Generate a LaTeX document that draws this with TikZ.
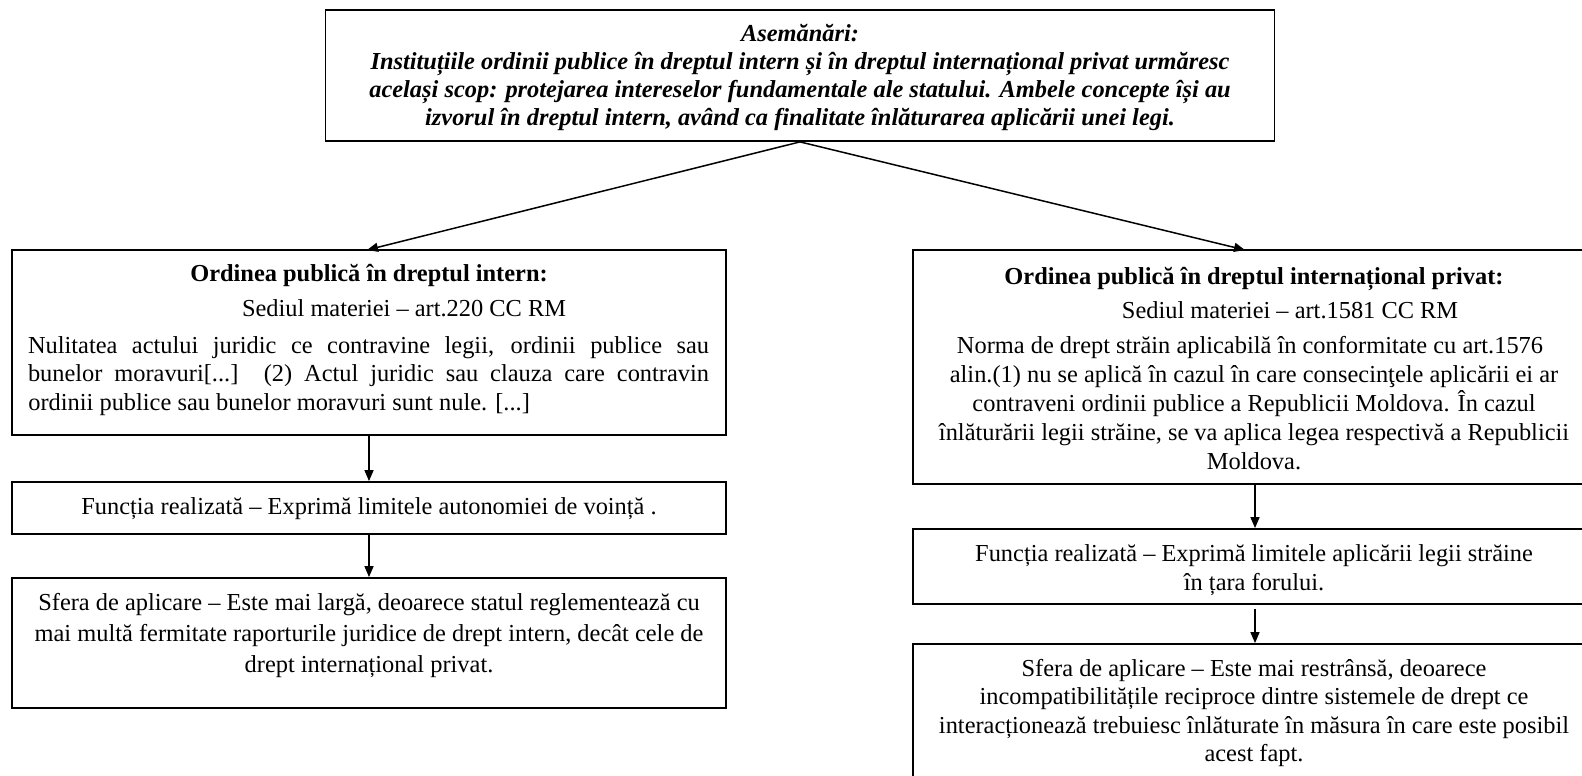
\documentclass[tikz,border=0pt]{standalone}
\usepackage{fontspec}
\setmainfont{Liberation Serif}
\usetikzlibrary{arrows.meta}
\tikzset{
  box/.style={draw=black, line width=0.9pt, rectangle, inner sep=0pt},
  txt/.style={inner sep=0pt, anchor=base, font=\fontsize{12.2pt}{14pt}\selectfont},
  btxt/.style={txt, font=\fontsize{12.2pt}{14pt}\selectfont\bfseries},
  bitxt/.style={txt, font=\fontsize{12.2pt}{14pt}\selectfont\bfseries\itshape},
  arr/.style={-{Triangle[length=5.5pt,width=4.5pt]}, line width=0.75pt},
}
\begin{document}
\begin{tikzpicture}[x=0.5pt,y=-0.5pt]
\useasboundingbox (0,0) rectangle (1582,775);
\clip (0,0) rectangle (1582,775);
% boxes
\node[box, minimum width=474.5pt, minimum height=65.5pt] (top) at (800,75.5) {};
\node[box, minimum width=357pt, minimum height=92.5pt] (lbox1) at (369,342.5) {};
\node[box, minimum width=357pt, minimum height=26pt] (lbox2) at (369,508) {};
\node[box, minimum width=357pt, minimum height=65pt] (lbox3) at (369,643) {};
\node[box, minimum width=342pt, minimum height=117pt] (rbox1) at (1255,367) {};
\node[box, minimum width=342pt, minimum height=37.5pt] (rbox2) at (1255,566.5) {};
\node[box, minimum width=342pt, minimum height=78pt] (rbox3) at (1255,722) {};
% top text
\node[bitxt] (t1) at (800,42) {Asemănări:};
\node[bitxt] (t2) at (800,70) {Instituțiile ordinii publice în dreptul intern și în dreptul internațional privat urmăresc};
\node[bitxt] (t3) at (800,98) {același scop: protejarea intereselor fundamentale ale statului. Ambele concepte își au};
\node[bitxt] (t4) at (800,126) {izvorul în dreptul intern, având ca finalitate înlăturarea aplicării unei legi.};
% left box 1
\node[btxt] (l1) at (369,281) {Ordinea publică în dreptul intern:};
\node[txt] (l2) at (404,316) {Sediul materiei – art.220 CC RM};
\node[txt] (l3) at (368.5,353) {\makebox[340.5pt][s]{Nulitatea actului juridic ce contravine legii, ordinii publice sau}};
\node[txt] (l4) at (368.5,381) {\makebox[340.5pt][s]{bunelor moravuri[...] (2) Actul juridic sau clauza care contravin}};
\node[txt, anchor=base west] (l5) at (28,410) {ordinii publice sau bunelor moravuri sunt nule. [...]};
% left box 2
\node[txt] (l6) at (369,514) {Funcția realizată – Exprimă limitele autonomiei de voință .};
% left box 3
\node[txt] (l7) at (369,610) {Sfera de aplicare – Este mai largă, deoarece statul reglementează cu};
\node[txt] (l8) at (369,641) {mai multă fermitate raporturile juridice de drept intern, decât cele de};
\node[txt] (l9) at (369,672) {drept internațional privat.};
% right box 1
\node[btxt] (r1) at (1254,284) {Ordinea publică în dreptul internațional privat:};
\node[txt] (r2) at (1290,318) {Sediul materiei – art.1581 CC RM};
\node[txt] (r3) at (1250,353) {Norma de drept străin aplicabilă în conformitate cu art.1576};
\node[txt] (r4) at (1254,382) {alin.(1) nu se aplică în cazul în care consecinţele aplicării ei ar};
\node[txt] (r5) at (1254,411) {contraveni ordinii publice a Republicii Moldova. În cazul};
\node[txt] (r6) at (1254,440) {înlăturării legii străine, se va aplica legea respectivă a Republicii};
\node[txt] (r7) at (1254,469) {Moldova.};
% right box 2
\node[txt] (r8) at (1254,561) {Funcția realizată – Exprimă limitele aplicării legii străine};
\node[txt] (r9) at (1254,590) {în țara forului.};
% right box 3
\node[txt] (r10) at (1254,676) {Sfera de aplicare – Este mai restrânsă, deoarece};
\node[txt] (r11) at (1254,704.5) {incompatibilitățile reciproce dintre sistemele de drept ce};
\node[txt] (r12) at (1254,733) {interacționează trebuiesc înlăturate în măsura în care este posibil};
\node[txt] (r13) at (1254,761.5) {acest fapt.};
% connectors
\coordinate (apex) at (top.south);
\coordinate (lend) at (367,250);
\coordinate (rend) at (1245,250);
\draw[arr] (apex) -- (lend);
\draw[arr] (apex) -- (rend);
\draw[arr] (lbox1.south) -- (lbox2.north);
\draw[arr] (lbox2.south) -- (lbox3.north);
\draw[arr] (rbox1.south) -- (rbox2.north);
\draw[arr, shorten <=2pt] (rbox2.south) -- (rbox3.north);
\end{tikzpicture}
\end{document}
